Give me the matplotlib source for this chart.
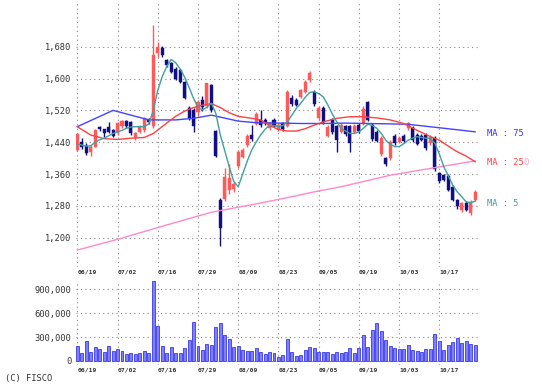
import matplotlib
matplotlib.use('Agg')
import matplotlib.pyplot as plt

# ---- data ----
date_labels = ['06/19', '07/02', '07/16', '07/29', '08/09', '08/23', '09/05', '09/19', '10/03', '10/17']
date_idx = [0, 9, 18, 27, 36, 45, 54, 63, 72, 81]

opens = [1420, 1440, 1431, 1416, 1429, 1479, 1472, 1479, 1470, 1462,
         1480, 1494, 1491, 1452, 1466, 1470, 1498, 1480, 1664, 1676,
         1646, 1638, 1625, 1621, 1592, 1525, 1520, 1515, 1545, 1530,
         1584, 1468, 1295, 1298, 1320, 1322, 1380, 1404, 1432, 1458,
         1485, 1497, 1496, 1475, 1496, 1472, 1487, 1480, 1550, 1546,
         1553, 1567, 1596, 1565, 1502, 1525, 1456, 1497, 1480, 1466,
         1480, 1480, 1466, 1483, 1487, 1540, 1483, 1466, 1410, 1400,
         1400, 1455, 1441, 1455, 1475, 1476, 1458, 1455, 1458, 1437,
         1450, 1362, 1357, 1355, 1328, 1295, 1270, 1288, 1262, 1295]
highs = [1464, 1450, 1437, 1433, 1473, 1481, 1474, 1491, 1474, 1490,
         1497, 1497, 1494, 1466, 1483, 1503, 1502, 1735, 1693, 1682,
         1650, 1642, 1630, 1625, 1594, 1530, 1525, 1545, 1555, 1590,
         1586, 1470, 1300, 1375, 1385, 1340, 1420, 1425, 1460, 1482,
         1515, 1520, 1500, 1492, 1500, 1487, 1491, 1570, 1558, 1550,
         1574, 1596, 1620, 1572, 1530, 1530, 1482, 1502, 1484, 1488,
         1484, 1484, 1485, 1487, 1530, 1543, 1487, 1470, 1455, 1403,
         1445, 1460, 1455, 1460, 1492, 1480, 1462, 1460, 1462, 1458,
         1455, 1366, 1360, 1360, 1332, 1298, 1290, 1292, 1294, 1320]
lows = [1418, 1424, 1408, 1405, 1427, 1469, 1452, 1462, 1452, 1458,
        1476, 1476, 1458, 1446, 1463, 1466, 1486, 1476, 1655, 1655,
        1630, 1614, 1597, 1588, 1548, 1496, 1465, 1505, 1518, 1525,
        1517, 1402, 1180, 1293, 1310, 1315, 1376, 1400, 1428, 1444,
        1482, 1478, 1483, 1470, 1477, 1468, 1468, 1477, 1530, 1530,
        1550, 1563, 1592, 1530, 1495, 1485, 1452, 1460, 1415, 1462,
        1455, 1415, 1462, 1463, 1483, 1494, 1442, 1440, 1405, 1380,
        1395, 1434, 1437, 1438, 1470, 1440, 1432, 1442, 1420, 1433,
        1368, 1338, 1342, 1318, 1292, 1272, 1265, 1266, 1258, 1292]
closes = [1460, 1428, 1412, 1429, 1471, 1472, 1462, 1466, 1455, 1487,
          1493, 1480, 1462, 1462, 1479, 1500, 1490, 1658, 1680, 1660,
          1634, 1617, 1600, 1592, 1550, 1500, 1480, 1540, 1528, 1588,
          1520, 1405, 1225, 1352, 1350, 1335, 1415, 1420, 1456, 1447,
          1510, 1482, 1487, 1488, 1480, 1483, 1472, 1567, 1535, 1533,
          1570, 1592, 1615, 1535, 1525, 1490, 1478, 1465, 1445, 1482,
          1460, 1438, 1480, 1467, 1524, 1497, 1447, 1443, 1450, 1385,
          1440, 1438, 1450, 1442, 1488, 1445, 1435, 1446, 1425, 1453,
          1372, 1342, 1346, 1320, 1296, 1279, 1286, 1270, 1290, 1314]
volume = [182, 105, 245, 118, 173, 152, 110, 190, 122, 152,
          131, 89, 97, 89, 97, 131, 97, 1000, 435, 182,
          105, 173, 105, 97, 160, 265, 490, 182, 139, 215,
          194, 427, 469, 330, 280, 173, 190, 139, 131, 131,
          160, 110, 89, 110, 97, 55, 76, 280, 118, 68,
          76, 139, 173, 160, 118, 110, 118, 89, 118, 105,
          118, 160, 97, 160, 330, 173, 385, 469, 372, 265,
          190, 160, 152, 152, 203, 139, 131, 118, 152, 152,
          342, 245, 139, 194, 232, 287, 224, 245, 215, 194]  # thousands

ma5 = [1436, 1433, 1430, 1431, 1440, 1446, 1450, 1456, 1462, 1466,
       1470, 1475, 1478, 1479, 1479, 1479, 1486, 1520, 1570, 1605,
       1630, 1648, 1640, 1624, 1604, 1578, 1550, 1528, 1521, 1528,
       1538, 1512, 1458, 1418, 1378, 1341, 1328, 1360, 1392, 1420,
       1440, 1458, 1472, 1483, 1482, 1479, 1482, 1491, 1508, 1525,
       1538, 1553, 1565, 1567, 1562, 1554, 1535, 1512, 1492, 1475,
       1468, 1462, 1462, 1466, 1475, 1485, 1482, 1475, 1462, 1445,
       1435, 1429, 1429, 1436, 1445, 1450, 1454, 1452, 1450, 1450,
       1437, 1410, 1378, 1355, 1332, 1315, 1303, 1290, 1288, 1292]
ma25_idx = [0, 3, 6, 9, 12, 15, 17, 20, 22, 24, 26, 28, 30, 32, 34, 36, 39, 41, 43,
            45, 47, 49, 51, 53, 55, 58, 61, 64, 67, 70, 73, 76, 79, 81, 83, 85, 87, 89]
ma25 = [1479, 1458, 1449, 1447, 1450, 1452, 1462, 1488, 1505, 1518, 1527, 1533, 1537,
        1527, 1514, 1505, 1500, 1496, 1482, 1472, 1468, 1468, 1474, 1483, 1491, 1500,
        1504, 1504, 1501, 1496, 1487, 1470, 1454, 1445, 1430, 1416, 1405, 1391]
ma75_idx = [0, 8, 16, 22, 26, 30, 32, 36, 40, 45, 50, 55, 60, 65, 70, 74, 78, 82, 86, 89]
ma75 = [1479, 1520, 1496, 1496, 1500, 1508, 1503, 1493, 1489, 1488, 1487, 1487, 1488,
        1487, 1486, 1485, 1480, 1475, 1470, 1466]
ma200_idx = [0, 10, 20, 30, 40, 48, 52, 59, 70, 81, 89]
ma200 = [1169, 1199, 1232, 1264, 1285, 1303, 1313, 1328, 1357, 1378, 1393]

price_ticks = [1200, 1280, 1360, 1440, 1520, 1600, 1680]
vol_ticks = [0, 300, 600, 900]

UP = '#ff5a5a'
DOWN = '#101080'
GRID = dict(color='#888888', linestyle=(0, (1, 3)), linewidth=0.8)
FS = 6.3

plt.rcParams['font.family'] = 'DejaVu Sans Mono'

fig = plt.figure(figsize=(5.42, 3.89), dpi=100)
W, H = 542, 389
ax = fig.add_axes([76 / W, 1 - 267 / H, 402 / W, 266 / H])
axv = fig.add_axes([76 / W, 1 - 365 / H, 402 / W, 84 / H])

x = list(range(len(closes)))

# candles
for i in x:
    o, c = opens[i], closes[i]
    col = UP if c >= o else DOWN
    ax.vlines(i, lows[i], highs[i], color=col, linewidth=1, zorder=3)
    ax.bar(i, max(abs(c - o), 2), bottom=min(o, c), width=0.68,
           color=col, edgecolor=col, linewidth=0.3, zorder=4)

# moving averages
ax.plot(ma200_idx, ma200, color='#ff88cc', linewidth=1.0, zorder=5)
ax.plot(ma75_idx, ma75, color='#4444ff', linewidth=1.0, zorder=5)
ax.plot(ma25_idx, ma25, color='#ff4040', linewidth=1.0, zorder=5)
ax.plot(x, ma5, color='#40a0a0', linewidth=1.0, zorder=6)

ax.text(91.6, 1462, 'MA : 75', color='#3333ff', fontsize=FS, va='center', clip_on=False)
ax.text(91.6, 1389, 'MA : 25', color='#ff4444', fontsize=FS, va='center', clip_on=False)
ax.annotate('0', xy=(91.6, 1389), xytext=(7 * 0.602 * FS, 0), textcoords='offset points',
            color='#ff99cc', fontsize=FS, va='center', annotation_clip=False)
ax.text(91.6, 1286, 'MA : 5', color='#40a0a0', fontsize=FS, va='center', clip_on=False)

ax.set_xlim(-0.29, 89.64)
ax.set_ylim(1126.4, 1794.8)
ax.set_yticks(price_ticks)
ax.set_yticklabels([f'{v:,}' for v in price_ticks])

# volume
axv.bar(x, [v * 1000 for v in volume], width=0.66, color='#8080ff',
        edgecolor='#3a3aee', linewidth=0.6, zorder=3)
axv.set_xlim(-0.29, 89.64)
axv.set_ylim(-50000, 1000000)
axv.set_yticks([v * 1000 for v in vol_ticks])
axv.set_yticklabels([f'{v * 1000:,}' for v in vol_ticks])

for a in (ax, axv):
    a.set_xticks(date_idx)
    a.set_xticklabels(date_labels, fontsize=4.6, fontweight='bold', ha='left')
    a.grid(True, **GRID)
    a.set_axisbelow(True)
    for s in a.spines.values():
        s.set_visible(False)
    a.tick_params(length=0, pad=3.2, colors='#333333')
    a.tick_params(axis='y', labelsize=FS)
ax.tick_params(axis='x', pad=2)
axv.tick_params(axis='x', pad=1.5)

fig.text(5 / W, 1 - 379 / H, '(C) FISCO', fontsize=FS, color='#333333', va='center')

fig.savefig('out.png', dpi=100)
